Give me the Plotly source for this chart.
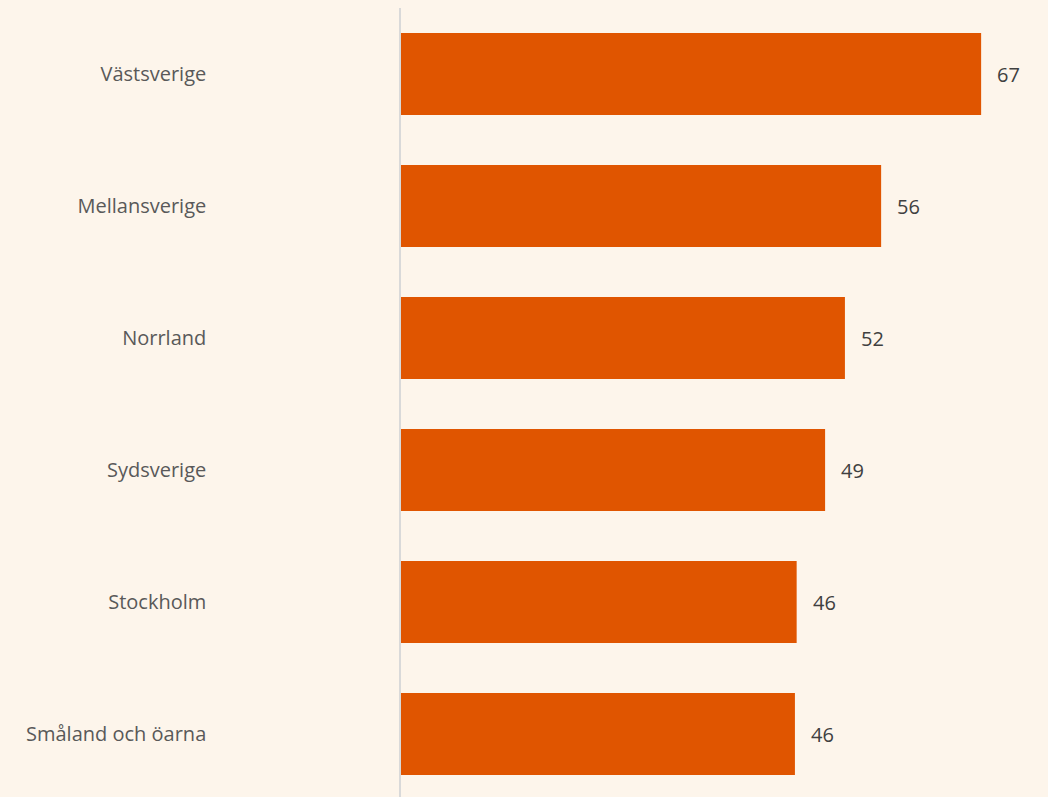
import plotly.graph_objects as go

categories = ["Västsverige", "Mellansverige", "Norrland", "Sydsverige", "Stockholm", "Småland och öarna"]
values = [67.3, 55.7, 51.5, 49.2, 45.9, 45.7]
labels = ["67", "56", "52", "49", "46", "46"]

BG = "#FDF5EB"
BAR = "#E05500"
FONT = "Open Sans"

fig = go.Figure()
fig.add_trace(go.Bar(
    x=values, y=categories, orientation="h",
    marker=dict(color=BAR, line=dict(width=0)),
    hoverinfo="skip",
))
for c, v, t in zip(categories, values, labels):
    fig.add_annotation(x=v, y=c, text=t, showarrow=False, xanchor="left",
                       xshift=14, font=dict(family=FONT, size=20, color="#404040"))

px_per_unit = 8.62
plot_w = 1048 - 401
fig.update_layout(
    width=1048, height=797,
    margin=dict(l=401, r=0, t=8, b=0),
    paper_bgcolor=BG, plot_bgcolor=BG,
    bargap=0.38,
    showlegend=False,
    xaxis=dict(range=[0, plot_w / px_per_unit], visible=False, fixedrange=True),
    yaxis=dict(
        type="category",
        range=[-0.5 + 789 / 132, -0.5],
        showline=True, linecolor="#D9D9D9", linewidth=1.5,
        showgrid=False, ticks="",
        ticklabelstandoff=189,
        tickfont=dict(family=FONT, size=20, color="#595959"),
        fixedrange=True,
    ),
)
fig.write_html("out.html", config={"displayModeBar": False},
               post_script="document.body.style.margin='0';document.body.style.background='" + BG + "';")
